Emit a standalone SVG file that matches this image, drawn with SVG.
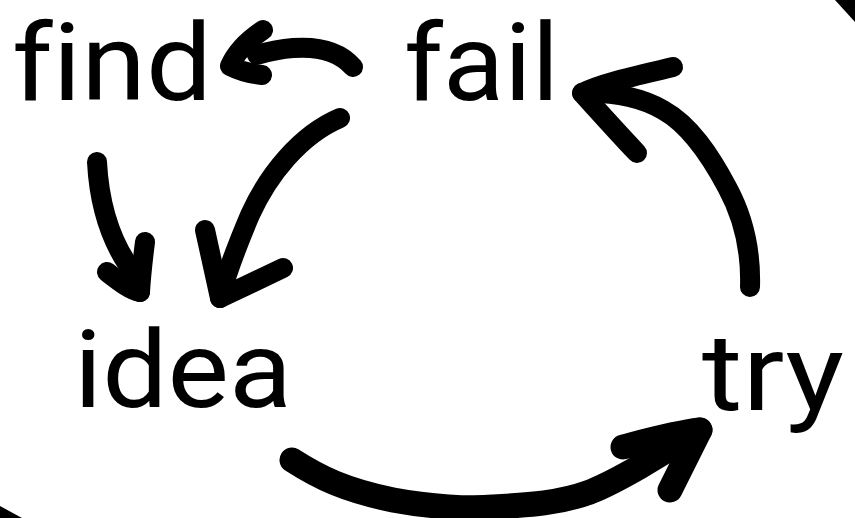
<svg xmlns="http://www.w3.org/2000/svg" width="855" height="518" viewBox="0 0 855 518">
<style>
.lbl{font-family:Roboto,"Open Sans","Liberation Sans",sans-serif;font-size:108px;fill:#000;font-variant-ligatures:none;font-feature-settings:"liga" 0}
.ink{fill:none;stroke:#000;stroke-width:20;stroke-linecap:round;stroke-linejoin:round}
.thick{stroke-width:25}
</style>
<rect width="855" height="518" fill="#fff"/>
<polygon points="835,0 855,0 855,22" fill="#000"/>
<polygon points="0,506 0,518 22,518" fill="#000"/>
<g id="find"><text class="lbl" x="12" y="100" textLength="200" lengthAdjust="spacingAndGlyphs">find</text></g>
<g id="fail"><text class="lbl" x="404" y="100" textLength="155" lengthAdjust="spacingAndGlyphs">fail</text></g>
<g id="idea"><text class="lbl" x="74" y="407" textLength="218" lengthAdjust="spacingAndGlyphs">idea</text></g>
<g id="try"><text class="lbl" x="702" y="410" textLength="142" lengthAdjust="spacingAndGlyphs">try</text></g>
<g id="connectors">
<path class="ink" d="M353,67 C340,52 320,46 293,48 C278,49 267,52 257,55"/>
<path class="ink" d="M263,30 C248,40 236,52 230,66 C242,72 252,74 262,75"/>
<path class="ink" d="M340,118 C300,135 268,175 250,215 C236,248 226,275 220,298"/>
<path class="ink" d="M205,230 L220,298 L283,268"/>
<path class="ink" d="M97,162 C99,200 108,235 128,265 C132,275 136,285 140,292"/>
<path class="ink" d="M107,272 C120,282 130,290 140,292 C141,275 143,258 145,242"/>
<path class="ink" d="M750,287 C751,255 745,220 727,187 C710,155 690,125 663,110 C640,97 610,92 582,93"/>
<path class="ink" d="M673,67 C640,75 605,82 582,93 C600,113 620,135 637,153"/>
<path class="ink thick" d="M292,460 C320,478 345,490 393,500 C430,507 470,509 493,507 C530,505 560,503 590,492 C620,480 660,455 700,430"/>
<path class="ink thick" d="M623,447 C650,440 675,433 700,430 C690,450 680,470 670,490"/>
</g>
</svg>
